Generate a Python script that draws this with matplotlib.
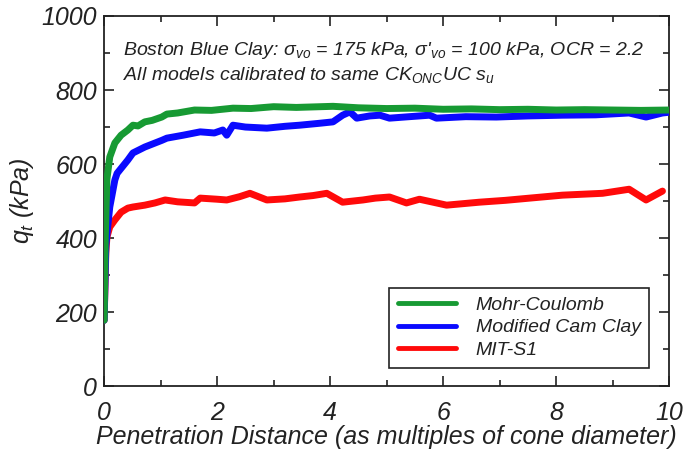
import matplotlib
matplotlib.use("Agg")
import matplotlib.pyplot as plt
from matplotlib.ticker import MultipleLocator
from matplotlib.lines import Line2D

plt.rcParams['font.family'] = ['Liberation Sans', 'DejaVu Sans']
plt.rcParams['font.style'] = 'italic'
plt.rcParams['mathtext.fontset'] = 'custom'
plt.rcParams['mathtext.rm'] = 'Liberation Sans:italic'
plt.rcParams['mathtext.it'] = 'Liberation Sans:italic'
plt.rcParams['text.color'] = '#222222'
plt.rcParams['axes.labelcolor'] = '#222222'
plt.rcParams['xtick.labelcolor'] = '#222222'
plt.rcParams['ytick.labelcolor'] = '#222222'

# Mohr-Coulomb
mc_x = [0.0, 0.02, 0.05, 0.1, 0.19, 0.3, 0.42, 0.51, 0.6, 0.72, 0.85, 1.02, 1.11, 1.3, 1.6, 1.9, 2.28, 2.6,
        3.0, 3.4, 4.05, 4.5, 5.0, 5.5, 6.0, 6.5, 7.0, 7.5, 8.0, 8.5, 9.0, 9.5, 10.0]
mc_y = [178, 400, 560, 619, 657, 678, 692, 705, 703, 714, 718, 727, 735, 738, 746, 745, 751, 750,
        755, 753, 756, 752, 750, 751, 748, 749, 747, 748, 746, 747, 746, 745, 746]

# Modified Cam Clay
mcc_x = [0.0, 0.03, 0.07, 0.1, 0.19, 0.23, 0.42, 0.51, 0.72, 1.02, 1.11, 1.4, 1.7, 1.95, 2.1, 2.17, 2.28, 2.5,
         2.88, 3.2, 3.46, 3.8, 4.05, 4.22, 4.35, 4.47, 4.7, 4.88, 5.05, 5.4, 5.76, 5.88, 6.4, 6.94, 7.5, 8.11,
         8.7, 9.29, 9.59, 9.88, 10.0]
mcc_y = [178, 380, 440, 484, 557, 575, 611, 630, 646, 664, 670, 678, 687, 684, 692, 678, 705, 700,
         697, 702, 705, 710, 714, 732, 741, 724, 730, 732, 724, 728, 732, 724, 728, 727, 730, 732,
         733, 738, 727, 738, 740]

# MIT-S1
mit_x = [0.0, 0.03, 0.05, 0.1, 0.19, 0.3, 0.42, 0.51, 0.72, 0.9, 1.08, 1.3, 1.6, 1.7, 2.0, 2.17, 2.4, 2.58,
         2.88, 3.2, 3.46, 3.7, 3.94, 4.22, 4.58, 4.8, 5.05, 5.35, 5.58, 6.06, 6.64, 7.1, 7.53, 8.11, 8.82,
         9.29, 9.59, 9.88]
mit_y = [178, 360, 403, 430, 449, 470, 481, 484, 489, 495, 503, 498, 495, 508, 505, 503, 512, 521,
         503, 506, 511, 515, 521, 497, 503, 508, 511, 495, 505, 489, 497, 502, 508, 516, 521,
         532, 503, 527]

fig = plt.figure(figsize=(6.85, 4.57), dpi=100)
ax = fig.add_axes([0.152, 0.155, 0.825, 0.81])

ax.plot(mit_x, mit_y, color='#ff0a0a', lw=5, solid_capstyle='round', solid_joinstyle='round', zorder=3)
ax.plot(mcc_x, mcc_y, color='#0a0aff', lw=5, solid_capstyle='round', solid_joinstyle='round', zorder=4)
ax.plot(mc_x, mc_y, color='#179a33', lw=5, solid_capstyle='round', solid_joinstyle='round', zorder=5)

ax.set_xlim(0, 10)
ax.set_ylim(0, 1000)
ax.xaxis.set_major_locator(MultipleLocator(2))
ax.xaxis.set_minor_locator(MultipleLocator(1))
ax.yaxis.set_major_locator(MultipleLocator(200))
ax.yaxis.set_minor_locator(MultipleLocator(100))
ax.tick_params(which='both', direction='in', top=True, right=True, width=1.2, labelsize=18,
               color='#222222')
ax.tick_params(axis='x', pad=11)
ax.tick_params(axis='y', pad=5)
ax.tick_params(which='major', length=7)
ax.tick_params(which='minor', length=4)
for s in ax.spines.values():
    s.set_linewidth(1.3)
    s.set_color('#222222')

ax.set_xlabel("Penetration Distance (as multiples of cone diameter)", fontsize=18, labelpad=0)
ax.set_ylabel(r"$q_t$ (kPa)", fontsize=18, labelpad=4)

ax.text(0.34, 908, r"Boston Blue Clay: $\sigma_{vo}$ = 175 kPa, $\sigma$'$_{vo}$ = 100 kPa, OCR = 2.2",
        fontsize=14, va='center', ha='left')
ax.text(0.34, 841, r"All models calibrated to same $CK_{ONC}UC$ $s_u$", fontsize=14, va='center', ha='left')

handles = [Line2D([], [], color='#179a33', lw=3.5, solid_capstyle='round'),
           Line2D([], [], color='#0a0aff', lw=3.5, solid_capstyle='round'),
           Line2D([], [], color='#ff0a0a', lw=3.5, solid_capstyle='round')]
leg = ax.legend(handles, ["Mohr-Coulomb", "Modified Cam Clay", "MIT-S1"], loc='lower right',
                bbox_to_anchor=(0.965, 0.05), fontsize=14, handlelength=3.0, fancybox=False,
                framealpha=1, edgecolor='#222222', borderpad=0.45, labelspacing=0.25, handletextpad=1.0,
                borderaxespad=0)
leg.get_frame().set_linewidth(1.2)

fig.savefig("out.png", dpi=100)
